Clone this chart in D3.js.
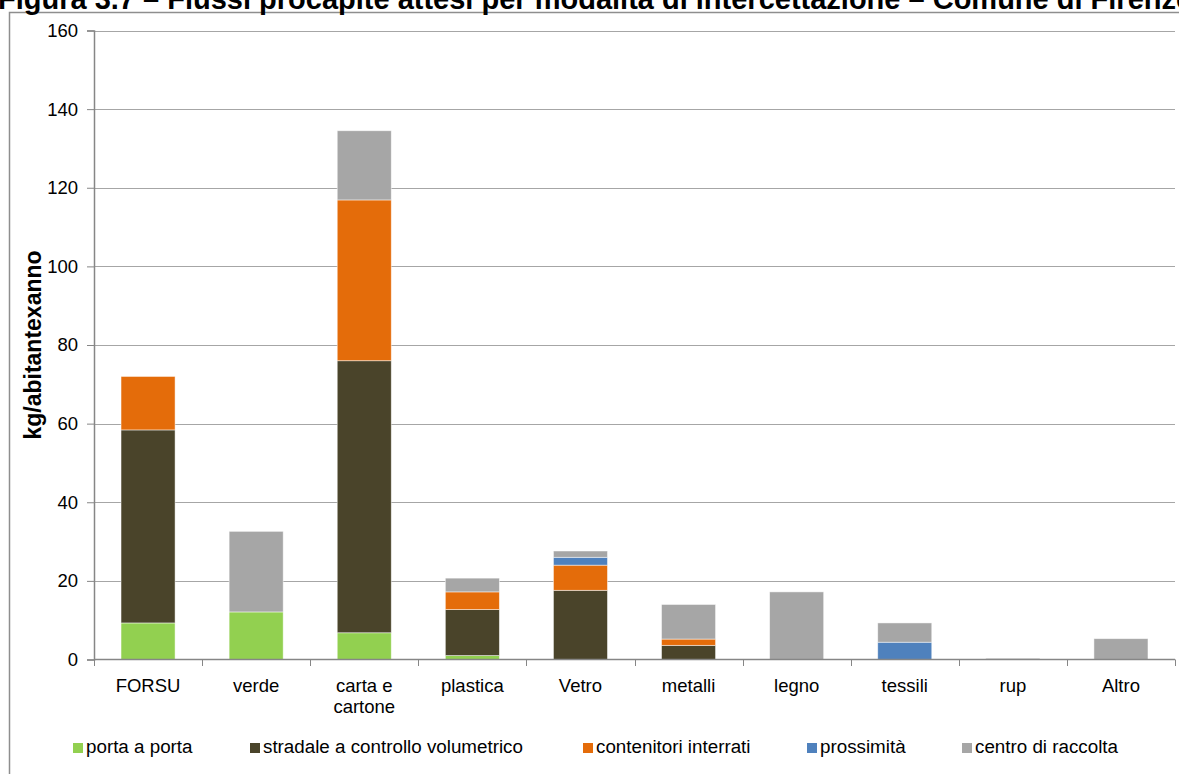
<!DOCTYPE html>
<html><head><meta charset="utf-8">
<script src="https://cdn.jsdelivr.net/npm/d3@7"></script>
<style>body{margin:0;background:#fff;} svg{display:block;font-family:Arial,"Liberation Sans",sans-serif;}</style>
</head><body>
<svg id="c" width="1179" height="774"></svg>
<script>
const title = "Figura 3.7 – Flussi procapite attesi per modalità di intercettazione – Comune di Firenze";
const yTitle = "kg/abitantexanno";
const categories = ["FORSU","verde","carta e cartone","plastica","Vetro","metalli","legno","tessili","rup","Altro"];
const categoryLines = [["FORSU"],["verde"],["carta e","cartone"],["plastica"],["Vetro"],["metalli"],["legno"],["tessili"],["rup"],["Altro"]];
const seriesNames = ["porta a porta","stradale a controllo volumetrico","contenitori interrati","prossimità","centro di raccolta"];
const seriesColors = ["#92D050","#4A442A","#E46C0A","#4F81BD","#A6A6A6"];
const portaAPorta = [9.3, 12.1, 6.8, 1.0, 0, 0, 0, 0, 0, 0];
const stradale    = [49.1, 0, 69.2, 11.7, 17.6, 3.6, 0, 0, 0, 0];
const contenitori = [13.6, 0, 40.9, 4.5, 6.4, 1.6, 0, 0, 0, 0];
const prossimita  = [0, 0, 0, 0, 2.0, 0, 0, 4.4, 0, 0];
const centro      = [0, 20.5, 17.6, 3.5, 1.6, 8.8, 17.2, 4.9, 0.3, 5.3];
const yTicks = [0,20,40,60,80,100,120,140,160];

const series = [portaAPorta, stradale, contenitori, prossimita, centro];
const rows = categories.map((c,i)=>{const o={cat:c}; seriesNames.forEach((s,j)=>o[s]=series[j][i]); return o;});
const stacked = d3.stack().keys(seriesNames)(rows);

const svg = d3.select("#c");
const x = d3.scaleBand().domain(categories).range([94,1175]).paddingInner(0.5).paddingOuter(0.25);
const y = d3.scaleLinear().domain([0,160]).range([659.5,30.5]);

// frame
svg.append("path").attr("d","M9.5,774 L9.5,12.5 L1179,12.5").attr("fill","none").attr("stroke","#8e8e8e").attr("stroke-width",1.5);

// title
svg.append("text").attr("x",-2).attr("y",9).attr("font-size",29).attr("font-weight","bold").attr("fill","#000").text(title);

// gridlines
svg.append("g").selectAll("line").data(yTicks.filter(d=>d>0)).join("line")
  .attr("x1",94).attr("x2",1175).attr("y1",d=>Math.round(y(d))+0.5).attr("y2",d=>Math.round(y(d))+0.5)
  .attr("stroke","#a6a6a6").attr("stroke-width",1.2);

// bars
svg.append("g").selectAll("g").data(stacked).join("g").attr("fill",(d,i)=>seriesColors[i])
  .selectAll("rect").data(d=>d.filter(s=>s[1]-s[0]>0)).join("rect")
  .attr("x",d=>x(d.data.cat)).attr("width",x.bandwidth())
  .attr("y",d=>y(d[1])).attr("height",d=>y(d[0])-y(d[1]))
  .attr("stroke","#ffffff").attr("stroke-opacity",0.6).attr("stroke-width",0.8);

// y axis
const yAxis = d3.axisLeft(y).tickValues(yTicks).tickSize(7).tickPadding(9);
const gy = svg.append("g").attr("transform","translate(94,0)").call(yAxis);
gy.select(".domain").attr("stroke","#868686").attr("stroke-width",1.5);
gy.selectAll(".tick line").attr("stroke","#868686");
gy.selectAll("text").attr("font-size",18.5).attr("fill","#000").attr("font-family","Arial, 'Liberation Sans', sans-serif");

// x axis
const xb = d3.scaleLinear().domain([0,10]).range([94,1175]);
const gx = svg.append("g");
gx.append("line").attr("x1",94).attr("x2",1175).attr("y1",659.5).attr("y2",659.5).attr("stroke","#868686").attr("stroke-width",1.5);
gx.selectAll(".tk").data(d3.range(0,11)).join("line").attr("class","tk")
  .attr("x1",d=>Math.round(xb(d))+0.5).attr("x2",d=>Math.round(xb(d))+0.5).attr("y1",659.5).attr("y2",666).attr("stroke","#868686");
gx.selectAll(".lbl").data(categories).join("text").attr("class","lbl")
  .attr("x",d=>x(d)+x.bandwidth()/2).attr("y",692).attr("text-anchor","middle").attr("font-size",18.5).attr("fill","#000")
  .each(function(d,i){ const t=d3.select(this); categoryLines[i].forEach((ln,k)=>t.append("tspan").attr("x",x(d)+x.bandwidth()/2).attr("dy",k?21:0).text(ln)); });

// y title
svg.append("text").attr("transform","translate(41,345) rotate(-90)").attr("text-anchor","middle")
  .attr("font-size",23).attr("font-weight","bold").attr("fill","#000").text(yTitle);

// legend
const legX = [73, 250, 583, 807, 962];
const lg = svg.append("g");
seriesNames.forEach((s,i)=>{
  lg.append("rect").attr("x",legX[i]).attr("y",743).attr("width",10).attr("height",10).attr("fill",seriesColors[i]);
  lg.append("text").attr("x",legX[i]+13).attr("y",753).attr("font-size",18.8).attr("fill","#000").text(s);
});
</script>
</body></html>
